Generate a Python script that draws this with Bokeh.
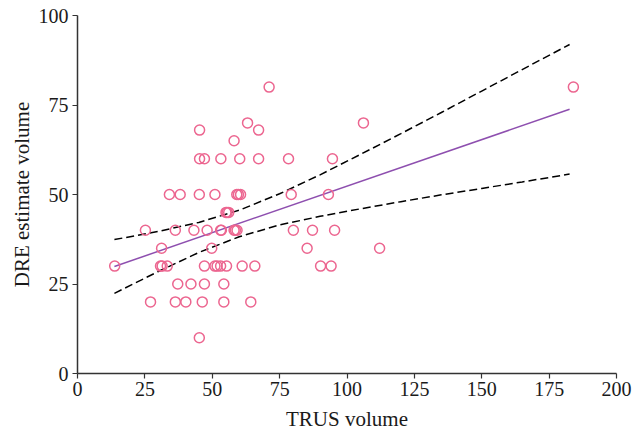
from bokeh.plotting import figure
from bokeh.models import Range1d, FixedTicker
from bokeh.embed import file_html
from bokeh.resources import INLINE

# Scatter data (TRUS volume, DRE estimate volume)
trus = [71.1, 184.0,
        63.1, 106.1,
        45.3, 67.2,
        58.1,
        45.3, 47.1, 53.2, 60.2, 67.2, 78.3, 94.6,
        34.1, 38.1, 45.2, 51.0, 59.1, 59.7, 60.5, 79.3, 93.1,
        55.1, 55.5, 56.1,
        25.2, 36.3, 43.2, 48.1, 53.1, 53.4, 58.1, 58.6, 59.2, 80.1, 87.2, 95.4,
        31.2, 49.8, 85.2, 112.1,
        13.8, 30.8, 31.4, 33.3, 47.1, 51.0, 51.8, 53.1, 55.3, 61.1, 65.8, 90.2, 94.1,
        37.2, 42.1, 47.1, 54.3,
        27.1, 36.3, 40.2, 46.3, 54.3, 64.3,
        45.2]
dre = [80, 80,
       70, 70,
       68, 68,
       65,
       60, 60, 60, 60, 60, 60, 60,
       50, 50, 50, 50, 50, 50, 50, 50, 50,
       45, 45, 45,
       40, 40, 40, 40, 40, 40, 40, 40, 40, 40, 40, 40,
       35, 35, 35, 35,
       30, 30, 30, 30, 30, 30, 30, 30, 30, 30, 30, 30, 30,
       25, 25, 25, 25,
       20, 20, 20, 20, 20, 20,
       10]

# Regression line and confidence band
fit_x = [13.7, 182.6]
fit_y = [29.9, 73.8]
band_x = [13.7, 30, 45, 60, 75, 90, 105, 120, 135, 150, 165, 182.6]
band_upper = [37.4, 39.7, 42.2, 45.6, 50.2, 55.5, 61.2, 67.0, 72.9, 78.9, 84.9, 91.9]
band_lower = [22.4, 28.5, 33.8, 38.2, 41.5, 43.9, 46.0, 48.0, 49.9, 51.7, 53.5, 55.7]

x_ticks = [0, 25, 50, 75, 100, 125, 150, 175, 200]
y_ticks = [0, 25, 50, 75, 100]

FONT = "Liberation Serif"

p = figure(width=636, height=434, output_backend="svg", toolbar_location=None,
           x_range=Range1d(0, 200), y_range=Range1d(0, 100),
           min_border_left=77, min_border_right=20, min_border_top=15, min_border_bottom=61)
p.outline_line_color = None
p.grid.grid_line_color = None
p.background_fill_color = "white"

p.line(band_x, band_upper, line_color="black", line_width=1.5, line_dash="8 4")
p.line(band_x, band_lower, line_color="black", line_width=1.5, line_dash="8 4")
p.line(fit_x, fit_y, line_color="#8E4FAF", line_width=1.5)
p.scatter(trus, dre, marker="circle", size=10, fill_color=None,
          line_color="#EC6690", line_width=1.5)

for ax, ticks, label in ((p.xaxis, x_ticks, "TRUS volume"), (p.yaxis, y_ticks, "DRE estimate volume")):
    ax.ticker = FixedTicker(ticks=ticks)
    ax.axis_label = label
    ax.axis_label_text_font = FONT
    ax.axis_label_text_font_style = "normal"
    ax.axis_label_text_font_size = "21px"
    ax.axis_label_text_color = "#1a1a1a"
    ax.major_label_text_font = FONT
    ax.major_label_text_font_size = "20px"
    ax.major_label_text_color = "#1a1a1a"
    ax.axis_line_color = "#333333"
    ax.axis_line_width = 1.5
    ax.major_tick_line_color = "#333333"
    ax.major_tick_line_width = 1.2
    ax.major_tick_out = 5
    ax.major_tick_in = 0
    ax.minor_tick_line_color = None

p.yaxis.major_label_standoff = 4
p.yaxis.axis_label_standoff = 2
p.xaxis.major_label_standoff = 3
p.xaxis.axis_label_standoff = 8

open("out.html", "w").write(file_html(p, INLINE))
